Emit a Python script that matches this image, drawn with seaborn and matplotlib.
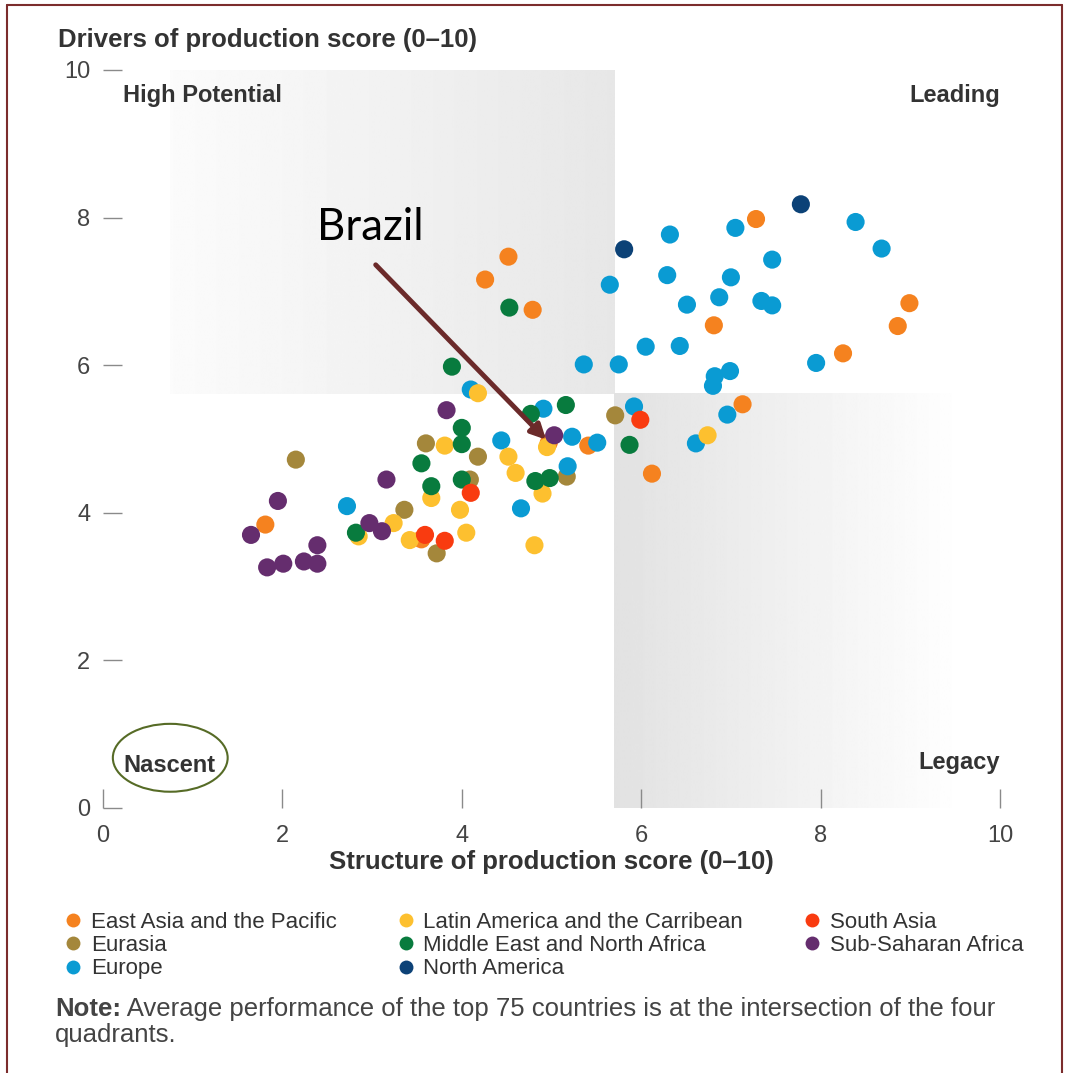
import numpy as np
import pandas as pd
import matplotlib.pyplot as plt
import seaborn as sns
from matplotlib.patches import Ellipse
from matplotlib.lines import Line2D
import matplotlib.patheffects as pe

# Region names and colours (legend order)
regions = ['East Asia and the Pacific', 'Eurasia', 'Europe',
           'Latin America and the Carribean', 'Middle East and North Africa', 'North America',
           'South Asia', 'Sub-Saharan Africa']
colors = ['#f5821f', '#a4873b', '#0a9bd3',
          '#fdc02f', '#087b3e', '#0c4277',
          '#f93b10', '#652d6e']

# Structure score (x) / drivers score (y)
east_asia_x = [1.81, 3.55, 4.26, 4.52, 4.79, 4.97, 5.41, 6.12, 6.81, 7.13, 7.28, 8.25, 8.86, 8.99]
east_asia_y = [3.84, 3.64, 7.16, 7.47, 6.75, 4.95, 4.91, 4.53, 6.54, 5.47, 7.98, 6.16, 6.53, 6.84]

latin_x = [2.85, 3.24, 3.42, 3.66, 3.81, 3.98, 4.05, 4.18, 4.52, 4.60, 4.81, 4.90, 4.95, 6.74]
latin_y = [3.68, 3.86, 3.63, 4.20, 4.91, 4.04, 3.73, 5.62, 4.76, 4.54, 3.56, 4.26, 4.89, 5.05]

south_asia_x = [3.59, 3.81, 4.10, 5.99]
south_asia_y = [3.70, 3.62, 4.27, 5.26]

eurasia_x = [2.15, 3.36, 3.60, 3.72, 4.09, 4.18, 5.17, 5.71]
eurasia_y = [4.72, 4.04, 4.94, 3.45, 4.45, 4.76, 4.49, 5.32]

mena_x = [2.82, 3.55, 3.66, 3.89, 4.00, 4.00, 4.00, 4.53, 4.77, 4.82, 4.98, 5.16, 5.87]
mena_y = [3.73, 4.67, 4.36, 5.98, 5.15, 4.93, 4.45, 6.78, 5.34, 4.43, 4.47, 5.46, 4.92]

ssa_x = [1.65, 1.83, 1.95, 2.01, 2.24, 2.39, 2.39, 2.97, 3.11, 3.16, 3.83, 5.03]
ssa_y = [3.70, 3.26, 4.16, 3.31, 3.34, 3.56, 3.31, 3.86, 3.75, 4.45, 5.39, 5.05]

europe_x = [2.72, 4.10, 4.44, 4.66, 4.91, 5.18, 5.23, 5.36, 5.51, 5.65, 5.75, 5.92, 6.05, 6.29,
            6.32, 6.43, 6.51, 6.61, 6.80, 6.82, 6.87, 6.96, 6.99, 7.00, 7.05, 7.34, 7.46, 7.46,
            7.95, 8.39, 8.68]
europe_y = [4.09, 5.67, 4.98, 4.06, 5.41, 4.63, 5.03, 6.01, 4.95, 7.09, 6.01, 5.44, 6.25, 7.22,
            7.77, 6.26, 6.82, 4.94, 5.72, 5.85, 6.92, 5.33, 5.92, 7.19, 7.86, 6.87, 6.81, 7.43,
            6.03, 7.94, 7.58]

north_america_x = [5.81, 7.78]
north_america_y = [7.57, 8.18]

# Quadrant split (average of top 75 countries)
mid_x, mid_y = 5.70, 5.61

series = {
    'East Asia and the Pacific': (east_asia_x, east_asia_y),
    'Eurasia': (eurasia_x, eurasia_y),
    'Europe': (europe_x, europe_y),
    'Latin America and the Carribean': (latin_x, latin_y),
    'Middle East and North Africa': (mena_x, mena_y),
    'North America': (north_america_x, north_america_y),
    'South Asia': (south_asia_x, south_asia_y),
    'Sub-Saharan Africa': (ssa_x, ssa_y),
}
frames = [pd.DataFrame({'structure': xs, 'drivers': ys, 'region': name})
          for name, (xs, ys) in series.items()]
df = pd.concat(frames, ignore_index=True)

sns.set_style('white')
plt.rcParams['font.family'] = ['Liberation Sans', 'DejaVu Sans']

fig = plt.figure(figsize=(10.66, 10.73), dpi=100)
ax = fig.add_axes([0.0966, 0.2470, 0.8415, 0.6878])

# Gradient shading of the two off-diagonal quadrants
g1 = np.linspace(0.985, 0.905, 256)[None, :]
ax.imshow(g1, cmap='gray', vmin=0, vmax=1, extent=(0.75, mid_x, mid_y, 10),
          aspect='auto', interpolation='bilinear', zorder=0)
g2 = np.linspace(0.885, 1.0, 256)[None, :]
ax.imshow(g2, cmap='gray', vmin=0, vmax=1, extent=(mid_x, 9.6, 0, mid_y),
          aspect='auto', interpolation='bilinear', zorder=0)

sns.scatterplot(data=df, x='structure', y='drivers', hue='region', hue_order=regions,
                palette=colors, s=170, edgecolor='none', linewidth=0, alpha=1,
                legend=False, zorder=3, ax=ax)

ax.set_xlim(0, 10)
ax.set_ylim(0, 10)
ax.set_xticks([0, 2, 4, 6, 8, 10])
ax.set_yticks([0, 2, 4, 6, 8, 10])
ax.set_xlabel('')
ax.set_ylabel('')
for s in ax.spines.values():
    s.set_visible(False)
ax.tick_params(axis='both', direction='in', length=14, width=1, color='#8a8a8a',
               labelsize=17, labelcolor='#444444', bottom=True, left=True)
ax.tick_params(axis='y', pad=9)
ax.tick_params(axis='x', pad=12)

# Quadrant labels
qstyle = dict(fontsize=17, fontweight='bold', color='#333333', va='center')
ax.text(0.22, 9.66, 'High Potential', ha='left', **qstyle)
ax.text(10.0, 9.66, 'Leading', ha='right', **qstyle)
ax.text(0.23, 0.58, 'Nascent', ha='left', **qstyle)
ax.text(10.0, 0.61, 'Legacy', ha='right', **qstyle)

ax.add_patch(Ellipse((0.75, 0.68), 1.28, 0.92, fill=False, edgecolor='#566b26',
                     linewidth=1.5, zorder=4))

# Brazil call-out
ax.text(2.98, 7.86, 'Brazil', fontsize=31.5, family=['Lato', 'DejaVu Sans'],
        ha='center', va='center', color='black')
ax.annotate('', xy=(4.94, 4.99), xytext=(3.04, 7.36),
            arrowprops=dict(arrowstyle='-|>', color='#6b2a2a', lw=3.5, mutation_scale=22,
                            shrinkA=0, shrinkB=0,
                            path_effects=[pe.SimplePatchShadow(offset=(2, -2), alpha=0.3),
                                          pe.Normal()]),
            zorder=5)

# Axis titles
fig.text(58 / 1066, 1 - 40 / 1073, 'Drivers of production score (0\u201310)', fontsize=18.5,
         fontweight='bold', color='#333333', ha='left', va='center')
fig.text(551 / 1066, 1 - 862 / 1073, 'Structure of production score (0\u201310)', fontsize=18.5,
         fontweight='bold', color='#333333', ha='center', va='center')

# Legend
handles = [Line2D([], [], marker='o', linestyle='none', markersize=10,
                  markerfacecolor=c, markeredgecolor='none') for c in colors]
fig.legend(handles, regions, ncol=3, loc='upper left',
           bbox_to_anchor=(62 / 1066, 1 - 912 / 1073), frameon=False, fontsize=16,
           handletextpad=0.3, columnspacing=2.6, labelspacing=0.1, handlelength=1.0,
           borderaxespad=0, borderpad=0, labelcolor='#333333')

# Note
t1 = fig.text(55 / 1066, 1 - 1009 / 1073, 'Note:', fontsize=18.5, fontweight='bold',
              color='#444444', ha='left', va='center')
ax.annotate(' Average performance of the top 75 countries is at the intersection of the four',
            xy=(1, 0.5), xycoords=t1, fontsize=18.5, color='#444444', ha='left', va='center',
            annotation_clip=False)
fig.text(55 / 1066, 1 - 1035 / 1073, 'quadrants.', fontsize=18.5, color='#444444',
         ha='left', va='center')

# Thin maroon frame
for xs, ys in [([7 / 1066, 7 / 1066], [0, 1 - 5 / 1073]),
               ([7 / 1066, 1062 / 1066], [1 - 5 / 1073, 1 - 5 / 1073]),
               ([1062 / 1066, 1062 / 1066], [0, 1 - 5 / 1073])]:
    fig.add_artist(Line2D(xs, ys, color='#7b2c2c', linewidth=1.5, transform=fig.transFigure))

fig.savefig('out.png', dpi=100)
